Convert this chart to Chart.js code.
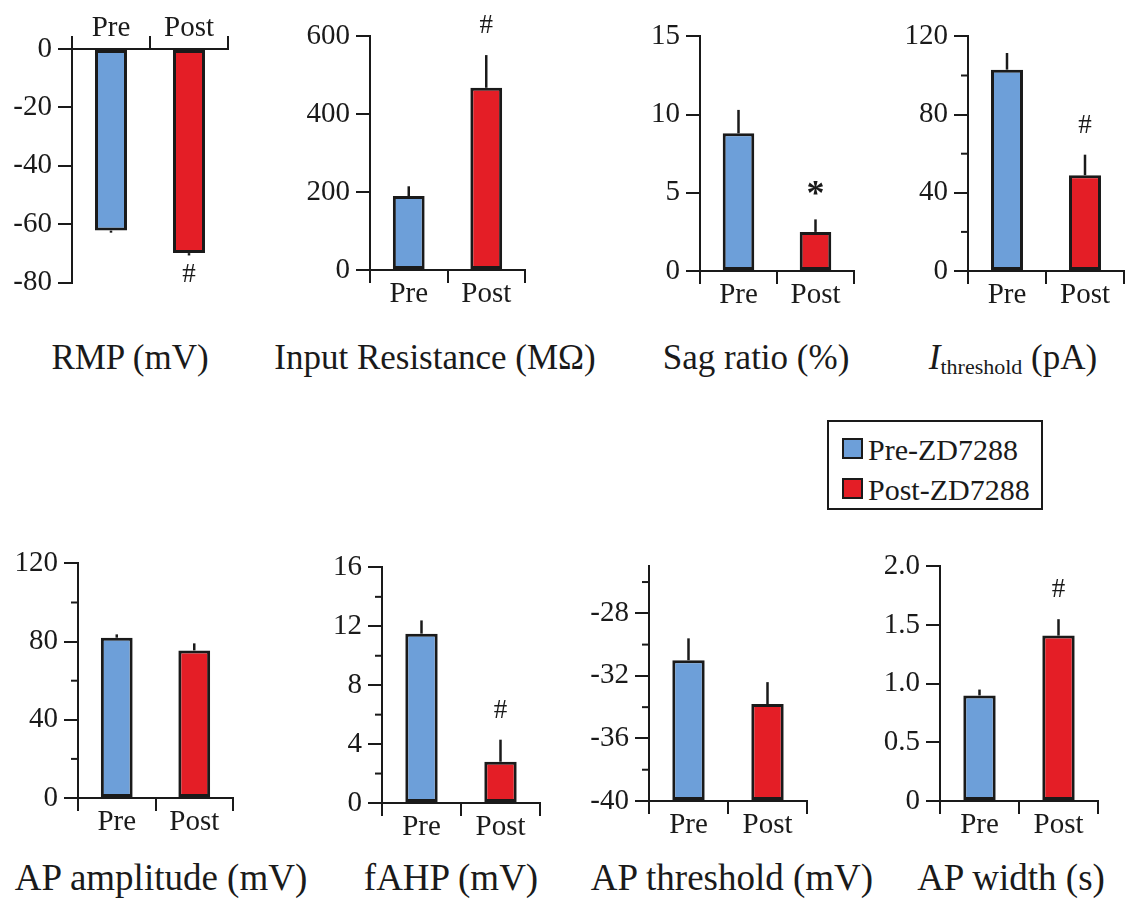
<!DOCTYPE html>
<html>
<head>
<meta charset="utf-8">
<script src="https://cdn.jsdelivr.net/npm/chart.js@4.4.1/dist/chart.umd.min.js"></script>
<style>
  body { margin: 0; width: 1131px; height: 899px; overflow: hidden; position: relative; background: #fff;
         font-family: "Liberation Serif", Tinos, "Times New Roman", Times, "DejaVu Serif", serif; color: #1a1a1a; }
  canvas { position: absolute; }
  .title { position: absolute; white-space: nowrap; font-size: 35px; line-height: 36px; transform: translateX(-50%); }
  .title.low { font-size: 37px; }
  .title sub { font-size: 22px; vertical-align: -5px; }
  .legend { position: absolute; left: 827px; top: 420px; width: 212px; height: 86px; border: 2px solid #1a1a1a; }
  .legend div { position: absolute; left: 13px; font-size: 30px; line-height: 30px; }
  .legend span { display: inline-block; width: 17px; height: 17px; border: 2px solid #1a1a1a; margin-right: 5px; vertical-align: 1px; }
</style>
</head>
<body>
<canvas id="rmp"></canvas>
<canvas id="inputRes"></canvas>
<canvas id="sag"></canvas>
<canvas id="ithr"></canvas>
<canvas id="apAmp"></canvas>
<canvas id="fahp"></canvas>
<canvas id="apThr"></canvas>
<canvas id="apWidth"></canvas>

<div class="title" style="left:130px;top:340px">RMP (mV)</div>
<div class="title" style="left:435px;top:340px">Input Resistance (MΩ)</div>
<div class="title" style="left:756px;top:340px">Sag ratio (%)</div>
<div class="title" style="left:1013px;top:340px"><i>I</i><sub>threshold</sub> (pA)</div>
<div class="title low" style="left:161px;top:860px">AP amplitude (mV)</div>
<div class="title low" style="left:451px;top:860px">fAHP (mV)</div>
<div class="title low" style="left:732px;top:860px">AP threshold (mV)</div>
<div class="title low" style="left:1011px;top:860px">AP width (s)</div>

<div class="legend">
  <div style="top:13px"><span style="background:#6d9fd9"></span>Pre-ZD7288</div>
  <div style="top:53px"><span style="background:#e41e26"></span>Post-ZD7288</div>
</div>

<script>
// categories and colours
const groups = ['Pre', 'Post'];
const barColors = ['#6d9fd9', '#e41e26'];

// means, SEM and significance marks
const rmp = [-62.2, -69.9];
const rmpErr = [0.7, 0.8];
const rmpSig = ['', '#'];

const inputRes = [190, 468];
const inputResErr = [25, 84];
const inputResSig = ['', '#'];

const sag = [8.8, 2.5];
const sagErr = [1.5, 0.8];
const sagSig = ['', '*'];

const ithr = [103, 49];
const ithrErr = [8.5, 10.5];
const ithrSig = ['', '#'];

const apAmp = [82, 75.5];
const apAmpErr = [1.7, 3.6];
const apAmpSig = ['', ''];

const fahp = [11.5, 2.8];
const fahpErr = [0.9, 1.5];
const fahpSig = ['', '#'];

const apThr = [-31, -33.8];
const apThrErr = [1.4, 1.4];
const apThrSig = ['', ''];

const apWidth = [0.9, 1.41];
const apWidthErr = [0.05, 0.14];
const apWidthSig = ['', '#'];

// y tick values (major labelled, minor unlabelled)
const rmpTicks = [0, -20, -40, -60, -80];
const inputResTicks = [0, 200, 400, 600];
const sagTicks = [0, 5, 10, 15];
const ithrTicks = [0, 40, 80, 120];
const ithrMinor = [20, 60, 100];
const apAmpTicks = [0, 40, 80, 120];
const apAmpMinor = [20, 60, 100];
const fahpTicks = [0, 4, 8, 12, 16];
const fahpMinor = [2, 6, 10, 14];
const apThrTicks = [-40, -36, -32, -28];
const apThrMinor = [-38, -34, -30, -26];
const apWidthTicks = [0, 0.5, 1, 1.5, 2];
const apWidthLabels = ['0', '0.5', '1.0', '1.5', '2.0'];

const SERIF = '"Liberation Serif", Tinos, "Times New Roman", Times, "DejaVu Serif", serif';
Chart.defaults.font.family = SERIF;
Chart.defaults.font.size = 29;
Chart.defaults.color = '#1a1a1a';

// draws SEM lines, significance marks and minor y ticks
const errorBars = {
  id: 'errBars',
  afterDatasetsDraw(chart, args, opts) {
    const ctx = chart.ctx;
    const y = chart.scales.y;
    const vals = chart.data.datasets[0].data;
    const base = opts.base;
    ctx.save();
    ctx.strokeStyle = '#1a1a1a';
    ctx.lineWidth = 2.5;
    chart.getDatasetMeta(0).data.forEach((bar, i) => {
      const dir = vals[i] < base ? -1 : 1;
      const tip = y.getPixelForValue(vals[i] + dir * opts.err[i]);
      ctx.beginPath();
      ctx.moveTo(bar.x, bar.y);
      ctx.lineTo(bar.x, tip);
      ctx.stroke();
      const mark = opts.sig[i];
      if (mark) {
        ctx.fillStyle = '#1a1a1a';
        ctx.textAlign = 'center';
        ctx.textBaseline = 'middle';
        if (mark === '*') {
          ctx.font = 'bold 36px ' + SERIF;
          ctx.fillText(mark, bar.x, tip - 24);
        } else {
          ctx.font = '27px ' + SERIF;
          ctx.fillText(mark, bar.x, dir > 0 ? tip - 29 : tip + 19);
        }
      }
    });
    ctx.lineWidth = 2;
    (opts.minor || []).forEach(m => {
      const py = y.getPixelForValue(m);
      ctx.beginPath();
      ctx.moveTo(y.right, py);
      ctx.lineTo(y.right - 7, py);
      ctx.stroke();
    });
    ctx.restore();
  }
};

const Y_W = 72, X_H = 40, PAD_TOP = 20, PAD_RIGHT = 6;

function makePanel(id, area, values, errs, sig, cfg) {
  const el = document.getElementById(id);
  const xTop = cfg.xTop || false;
  const base = cfg.base !== undefined ? cfg.base : 0;
  const left = area.left - Y_W;
  const width = area.right - left + PAD_RIGHT;
  let top, height, pad;
  if (xTop) {
    top = area.top - X_H - PAD_TOP;
    height = area.bottom - top + 20;
    pad = { left: 0, right: PAD_RIGHT, top: PAD_TOP, bottom: 20 };
  } else {
    top = area.top - PAD_TOP;
    height = area.bottom - top + X_H + 4;
    pad = { left: 0, right: PAD_RIGHT, top: PAD_TOP, bottom: 4 };
  }
  el.width = width;
  el.height = height;
  el.style.left = left + 'px';
  el.style.top = top + 'px';

  new Chart(el, {
    type: 'bar',
    data: {
      labels: groups,
      datasets: [{
        data: values,
        base: base,
        backgroundColor: barColors,
        borderColor: '#1a1a1a',
        borderWidth: 3,
        borderSkipped: false,
        barPercentage: 0.41,
        categoryPercentage: 1
      }]
    },
    options: {
      responsive: false,
      animation: false,
      devicePixelRatio: 1,
      layout: { padding: pad },
      plugins: {
        legend: { display: false },
        tooltip: { enabled: false },
        errBars: { err: errs, sig: sig, minor: cfg.minor, base: base }
      },
      scales: {
        x: {
          position: xTop ? 'top' : 'bottom',
          offset: true,
          afterFit: s => { s.height = X_H; },
          grid: { offset: true, drawOnChartArea: false, drawTicks: true, tickLength: 13, lineWidth: 2, tickColor: '#1a1a1a' },
          border: { display: true, color: '#1a1a1a', width: 2 },
          ticks: { padding: xTop ? -10 : -6, font: { size: 29 } }
        },
        y: {
          min: cfg.min,
          max: cfg.max,
          afterFit: s => { s.width = Y_W; },
          afterBuildTicks: s => { s.ticks = cfg.ticks.map(v => ({ value: v })); },
          grid: { drawOnChartArea: false, drawTicks: true, tickLength: 14, lineWidth: 2, tickColor: '#1a1a1a' },
          border: { display: true, color: '#1a1a1a', width: 2 },
          ticks: {
            padding: 6,
            font: { size: 29 },
            callback: (v, i) => cfg.labels ? cfg.labels[i] : String(v)
          }
        }
      }
    },
    plugins: [errorBars]
  });
}

makePanel('rmp', { left: 72, right: 228, top: 49, bottom: 286 }, rmp, rmpErr, rmpSig,
  { min: -80, max: 0, ticks: rmpTicks, xTop: true });
makePanel('inputRes', { left: 370, right: 525, top: 33, bottom: 270 }, inputRes, inputResErr, inputResSig,
  { min: 0, max: 600, ticks: inputResTicks });
makePanel('sag', { left: 700, right: 854, top: 33, bottom: 271 }, sag, sagErr, sagSig,
  { min: 0, max: 15, ticks: sagTicks });
makePanel('ithr', { left: 968, right: 1124, top: 33, bottom: 271 }, ithr, ithrErr, ithrSig,
  { min: 0, max: 120, ticks: ithrTicks, minor: ithrMinor });
makePanel('apAmp', { left: 78, right: 233, top: 560, bottom: 798 }, apAmp, apAmpErr, apAmpSig,
  { min: 0, max: 120, ticks: apAmpTicks, minor: apAmpMinor });
makePanel('fahp', { left: 382, right: 540, top: 564, bottom: 803 }, fahp, fahpErr, fahpSig,
  { min: 0, max: 16, ticks: fahpTicks, minor: fahpMinor });
makePanel('apThr', { left: 649, right: 807, top: 563, bottom: 801 }, apThr, apThrErr, apThrSig,
  { min: -40, max: -25, ticks: apThrTicks, minor: apThrMinor, base: -40 });
makePanel('apWidth', { left: 940, right: 1098, top: 563, bottom: 801 }, apWidth, apWidthErr, apWidthSig,
  { min: 0, max: 2, ticks: apWidthTicks, labels: apWidthLabels });
</script>
</body>
</html>
